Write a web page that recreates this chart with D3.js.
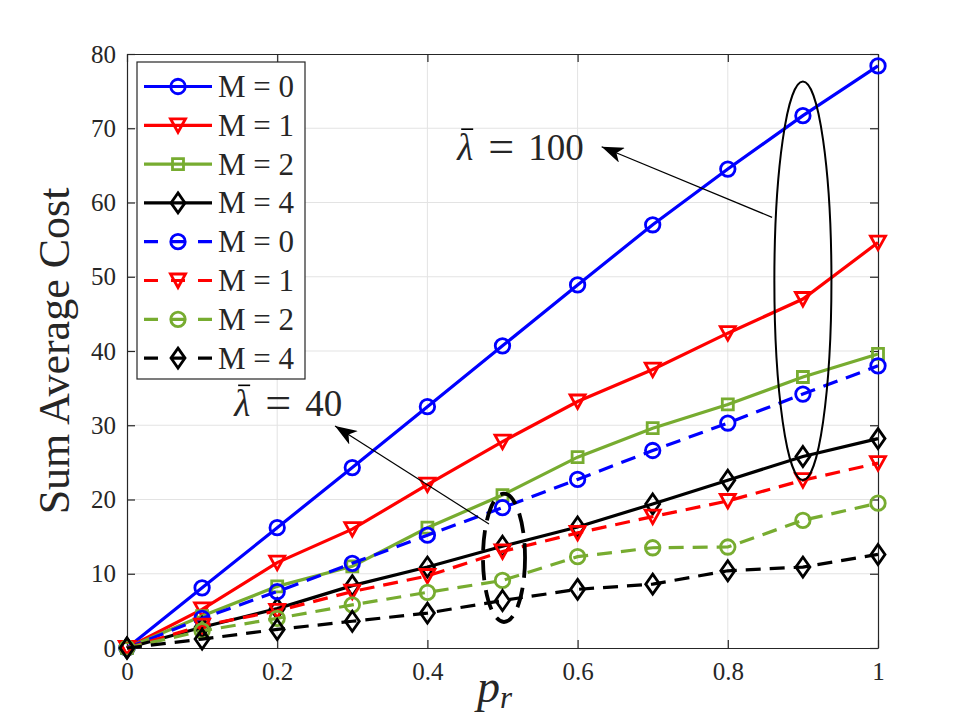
<!DOCTYPE html>
<html>
<head>
<meta charset="utf-8">
<script src="https://cdn.jsdelivr.net/npm/d3@7"></script>
<style>
  body { margin: 0; background: #fff; }
  svg { display: block; }
  text { font-family: "Liberation Serif", "Times New Roman", serif; fill: #262626; }
</style>
</head>
<body>
<div id="chart"></div>
<script>
// data
const pr = [0, 0.1, 0.2, 0.3, 0.4, 0.5, 0.6, 0.7, 0.8, 0.9, 1];
// lambda = 100 (solid)
const m0Hi = [0, 8.1, 16.2, 24.3, 32.5, 40.7, 48.9, 57.0, 64.5, 71.7, 78.4];
const m1Hi = [0, 5.2, 11.5, 16.0, 22.0, 27.8, 33.2, 37.5, 42.4, 47.0, 54.6];
const m2Hi = [0, 4.3, 8.3, 11.0, 16.2, 20.6, 25.7, 29.6, 32.8, 36.5, 39.6];
const m4Hi = [0, 2.8, 5.3, 8.4, 10.9, 13.7, 16.3, 19.4, 22.6, 25.8, 28.2];
// lambda = 40 (dashed)
const m0Lo = [0, 4.0, 7.6, 11.4, 15.2, 18.9, 22.7, 26.6, 30.3, 34.2, 38.0];
const m1Lo = [0, 3.0, 5.0, 7.6, 9.7, 13.0, 15.5, 17.7, 19.8, 22.6, 24.9];
const m2Lo = [0, 2.3, 4.0, 5.8, 7.5, 9.1, 12.3, 13.5, 13.6, 17.2, 19.5];
const m4Lo = [0, 1.2, 2.5, 3.6, 4.7, 6.4, 7.9, 8.6, 10.4, 10.9, 12.6];

const seriesLabels = ["M = 0", "M = 1", "M = 2", "M = 4", "M = 0", "M = 1", "M = 2", "M = 4"];
const xTicks = [0, 0.2, 0.4, 0.6, 0.8, 1];
const yTicks = [0, 10, 20, 30, 40, 50, 60, 70, 80];

const series = [
  {values: m0Hi, color: "#0000ff", marker: "circle", dashed: false},
  {values: m1Hi, color: "#ff0000", marker: "triangle", dashed: false},
  {values: m2Hi, color: "#77ac30", marker: "square", dashed: false},
  {values: m4Hi, color: "#000000", marker: "diamond", dashed: false},
  {values: m0Lo, color: "#0000ff", marker: "circle", dashed: true},
  {values: m1Lo, color: "#ff0000", marker: "triangle", dashed: true},
  {values: m2Lo, color: "#77ac30", marker: "circle", dashed: true},
  {values: m4Lo, color: "#000000", marker: "diamond", dashed: true}
];
series.forEach((s, i) => s.label = seriesLabels[i]);

const W = 970, H = 728;
const margin = {top: 54, right: 92, bottom: 80, left: 127};
const width = W - margin.left - margin.right;
const height = H - margin.top - margin.bottom;

const svg = d3.select("#chart").append("svg")
  .attr("width", W).attr("height", H);

const defs = svg.append("defs");
defs.append("marker")
  .attr("id", "arrowhead")
  .attr("viewBox", "0 0 22 16")
  .attr("refX", 22).attr("refY", 8)
  .attr("markerWidth", 22).attr("markerHeight", 16)
  .attr("markerUnits", "userSpaceOnUse")
  .attr("orient", "auto")
  .append("path")
  .attr("d", "M22,8 L0,0 L6,8 L0,16 Z")
  .attr("fill", "#000");

const g = svg.append("g").attr("transform", `translate(${margin.left},${margin.top})`);

const x = d3.scaleLinear().domain([0, 1]).range([0, width]);
const y = d3.scaleLinear().domain([0, 80]).range([height, 0]);

// grid
g.append("g").selectAll("line").data(xTicks.slice(1, -1)).join("line")
  .attr("x1", d => x(d)).attr("x2", d => x(d))
  .attr("y1", 0).attr("y2", height)
  .attr("stroke", "#e3e3e3").attr("stroke-width", 1);
g.append("g").selectAll("line").data(yTicks.slice(1, -1)).join("line")
  .attr("y1", d => y(d)).attr("y2", d => y(d))
  .attr("x1", 0).attr("x2", width)
  .attr("stroke", "#e3e3e3").attr("stroke-width", 1);

// axes (inward ticks on all four sides, like a boxed MATLAB axes)
const tickLen = 8;
const styleAxis = sel => {
  sel.select(".domain").attr("stroke", "#262626").attr("stroke-width", 1.2);
  sel.selectAll(".tick line").attr("stroke", "#262626").attr("stroke-width", 1.2);
  sel.selectAll(".tick text").attr("font-size", 25).attr("fill", "#262626");
};
g.append("g").attr("transform", `translate(0,${height})`)
  .call(d3.axisBottom(x).tickValues(xTicks).tickFormat(d3.format("~g"))
    .tickSizeInner(-tickLen).tickSizeOuter(0).tickPadding(14))
  .call(styleAxis);
g.append("g")
  .call(d3.axisTop(x).tickValues(xTicks).tickFormat("")
    .tickSizeInner(-tickLen).tickSizeOuter(0))
  .call(styleAxis);
g.append("g")
  .call(d3.axisLeft(y).tickValues(yTicks)
    .tickSizeInner(-tickLen).tickSizeOuter(0).tickPadding(11))
  .call(styleAxis);
g.append("g").attr("transform", `translate(${width},0)`)
  .call(d3.axisRight(y).tickValues(yTicks).tickFormat("")
    .tickSizeInner(-tickLen).tickSizeOuter(0))
  .call(styleAxis);

// axis labels
svg.append("text")
  .attr("transform", `translate(69,${margin.top + height / 2}) rotate(-90)`)
  .attr("text-anchor", "middle")
  .attr("font-size", 44)
  .text("Sum Average Cost");

const xl = svg.append("text")
  .attr("x", margin.left + width / 2 - 8).attr("y", 702)
  .attr("text-anchor", "middle")
  .attr("font-size", 46).attr("font-style", "italic");
xl.append("tspan").text("p");
xl.append("tspan").attr("font-size", 31).attr("dy", 6).text("r");

// marker shapes
function markerPath(type) {
  switch (type) {
    case "circle": return d3.symbol(d3.symbolCircle, 165)();
    case "triangle": return "M-7.5,-6.5 L7.5,-6.5 L0,7 Z";
    case "square": return "M-5.5,-5.5 L5.5,-5.5 L5.5,5.5 L-5.5,5.5 Z";
    case "diamond": return "M0,-10 L7,0 L0,10 L-7,0 Z";
  }
}

const line = d3.line().x(d => x(d[0])).y(d => y(d[1]));
const plot = g.append("g");
series.forEach(s => {
  const pts = pr.map((p, i) => [p, s.values[i]]);
  const sg = plot.append("g");
  sg.append("path")
    .datum(pts)
    .attr("d", line)
    .attr("fill", "none")
    .attr("stroke", s.color)
    .attr("stroke-width", 3.2)
    .attr("stroke-dasharray", s.dashed ? "15,9" : null);
  sg.selectAll("path.mk").data(pts).join("path")
    .attr("class", "mk")
    .attr("transform", d => `translate(${x(d[0])},${y(d[1])})`)
    .attr("d", markerPath(s.marker))
    .attr("fill", "none")
    .attr("stroke", s.color)
    .attr("stroke-width", 2.8);
});

// annotations
const ann = g.append("g");
// lambda = 100 ellipse and arrow
ann.append("ellipse")
  .attr("cx", x(0.9)).attr("cy", (y(76.3) + y(22.6)) / 2)
  .attr("rx", (x(0.938) - x(0.862)) / 2).attr("ry", (y(22.6) - y(76.3)) / 2)
  .attr("fill", "none").attr("stroke", "#000").attr("stroke-width", 2);
ann.append("line")
  .attr("x1", x(0.859)).attr("y1", y(58.0))
  .attr("x2", x(0.632)).attr("y2", y(67.5))
  .attr("stroke", "#000").attr("stroke-width", 1.2)
  .attr("marker-end", "url(#arrowhead)");
// lambda = 40 dashed ellipse and arrow
ann.append("ellipse")
  .attr("cx", x(0.502)).attr("cy", (y(20.8) + y(3.5)) / 2)
  .attr("rx", (x(0.530) - x(0.474)) / 2).attr("ry", (y(3.5) - y(20.8)) / 2)
  .attr("fill", "none").attr("stroke", "#000").attr("stroke-width", 3.8)
  .attr("stroke-dasharray", "20,10");
ann.append("line")
  .attr("x1", x(0.482)).attr("y1", y(16.7))
  .attr("x2", x(0.277)).attr("y2", y(29.9))
  .attr("stroke", "#000").attr("stroke-width", 1.2)
  .attr("marker-end", "url(#arrowhead)");

function lambdaLabel(px, val, num) {
  const tg = ann.append("g").attr("transform", `translate(${x(px)},${y(val)})`);
  tg.append("text").attr("x", -1).attr("font-size", 37).attr("font-style", "italic")
    .attr("fill", "#000").text("λ");
  tg.append("line").attr("x1", 3).attr("x2", 15).attr("y1", -31).attr("y2", -31)
    .attr("stroke", "#000").attr("stroke-width", 1.6);
  tg.append("text").attr("x", 30).attr("font-size", 46).attr("fill", "#000")
    .attr("dy", 2).text("=");
  tg.append("text").attr("x", 70).attr("font-size", 37).attr("fill", "#000").text(num);
}
lambdaLabel(0.441, 65.7, "100");
lambdaLabel(0.144, 31.2, "40");

// legend
const lg = svg.append("g").attr("transform", "translate(137,62)");
lg.append("rect")
  .attr("width", 168).attr("height", 317)
  .attr("fill", "#fff").attr("stroke", "#262626").attr("stroke-width", 1.2);
const rows = lg.selectAll("g.row").data(series).join("g")
  .attr("class", "row")
  .attr("transform", (d, i) => `translate(0,${24.5 + i * 38.8})`);
rows.append("line")
  .attr("x1", 7).attr("x2", 75)
  .attr("stroke", d => d.color).attr("stroke-width", 3.2)
  .attr("stroke-dasharray", d => d.dashed ? "14,13" : null);
rows.append("path")
  .attr("transform", "translate(41,0)")
  .attr("d", d => markerPath(d.marker))
  .attr("fill", "none").attr("stroke", d => d.color).attr("stroke-width", 2.8);
rows.append("text")
  .attr("x", 81).attr("y", 10.5)
  .attr("font-size", 31).attr("fill", "#000")
  .text(d => d.label);
</script>
</body>
</html>
